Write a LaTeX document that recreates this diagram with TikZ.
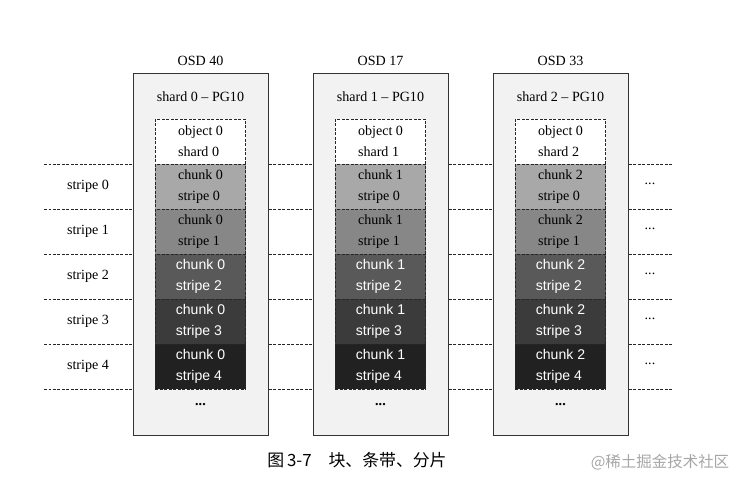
\documentclass[tikz,border=0pt]{standalone}
\usepackage{fontspec}
\setmainfont{Liberation Serif}
\setsansfont{Liberation Sans}
\newfontfamily\cjk{Noto Sans CJK SC}
\tikzset{
  osdbox/.style={draw=black!80,line width=0.6pt,fill=black!5,minimum width=3.375cm,minimum height=9.05cm,inner sep=0pt},
  chunkbox/.style={draw=black!85,dash pattern=on 2pt off 1.2pt,minimum width=2.25cm,minimum height=1.125cm,inner sep=0pt,align=left,font=\fontsize{10}{15}\selectfont},
  darkbox/.style={chunkbox,text=white,font=\sffamily\fontsize{10}{15}\selectfont},
  stripeline/.style={draw=black!85,dash pattern=on 2pt off 1.2pt}
}
\begin{document}
\begin{tikzpicture}[x=0.025cm,y=-0.025cm,font=\fontsize{10}{12}\selectfont]
  \useasboundingbox (0,0) rectangle (746,487);
  % stripe borders
  \foreach \j in {0,...,5} {
    \coordinate (l\j) at (44,164+45*\j);
    \coordinate (r\j) at (672,164+45*\j);
    \draw[stripeline] (l\j) -- (r\j);
  }
  \foreach \k in {0,...,4} {
    \node (stripe\k) at (88,186.5+45*\k) {stripe \k};
    \node (etc\k) at (650,183.5+45*\k) {...};
  }
  % one column per OSD
  \foreach \c/\osd in {0/40,1/17,2/33} {
    \pgfmathsetmacro\cx{200.5+180*\c}
    \node[osdbox] (osd\c) at (\cx,254) {};
    \node (name\c) at (\cx,61) {OSD \osd};
    \node (pg\c) at (\cx,97) {shard \c\ -- PG10};
    \node[chunkbox,fill=white] (obj\c) at (\cx,141.5) {object 0\\shard \c};
    \node[chunkbox,fill=black!34] (ch\c0) at (\cx,186.5) {chunk \c\\stripe 0};
    \node[chunkbox,fill=black!47] (ch\c1) at (\cx,231.5) {chunk \c\\stripe 1};
    \node[darkbox,fill=black!65] (ch\c2) at (\cx,276.5) {chunk \c\\stripe 2};
    \node[darkbox,fill=black!77] (ch\c3) at (\cx,321.5) {chunk \c\\stripe 3};
    \node[darkbox,fill=black!87] (ch\c4) at (\cx,366.5) {chunk \c\\stripe 4};
    \node (more\c) at (\cx,405) {\textbf{...}};
  }
  \node (caption) at (357,460) {\cjk\fontsize{12}{14}\selectfont 图\,3-7\quad 块、条带、分片};
  \node[text=black!35] (mark) at (660,462) {\cjk\fontsize{11}{13}\selectfont @稀土掘金技术社区};
\end{tikzpicture}
\end{document}
